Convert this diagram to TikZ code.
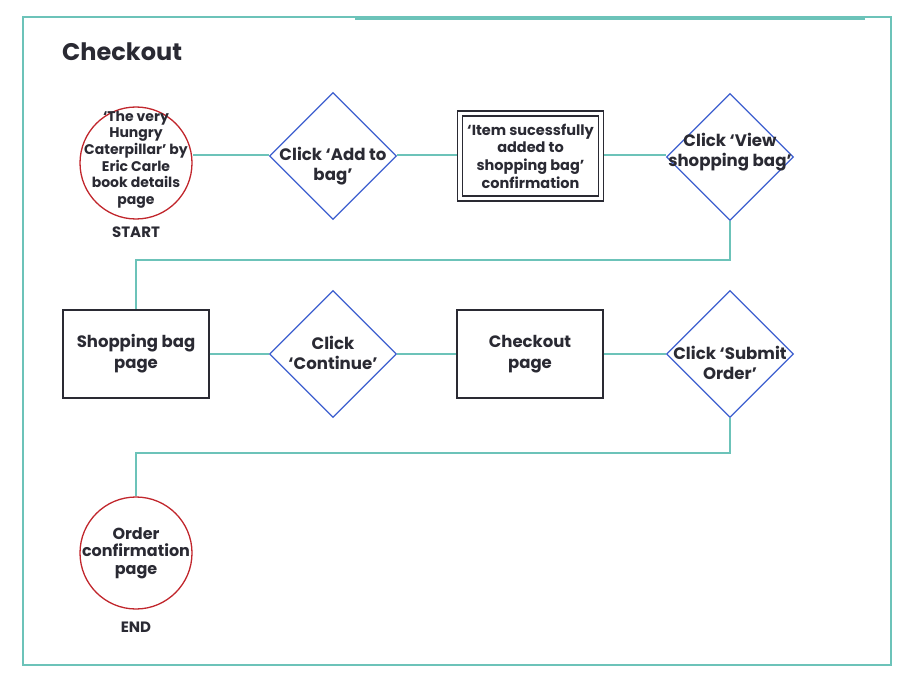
\documentclass[tikz,border=0pt]{standalone}
\usepackage{fontspec}
\setmainfont{Poppins}
\usetikzlibrary{shapes.geometric}
\definecolor{teal1}{HTML}{6CC3B9}
\definecolor{blue1}{HTML}{3D5FCF}
\definecolor{red1}{HTML}{C1272D}
\definecolor{ink}{HTML}{2A2A33}
\begin{document}
\begin{tikzpicture}[x=1pt,y=-1pt,
  txt/.style={font=\bfseries\fontsize{15}{17}\selectfont, text=ink, align=center, inner sep=0},
  dia/.style={draw=blue1, line width=1.3pt, diamond, minimum width=127, minimum height=127, inner sep=0},
  dtext/.style={txt, font=\bfseries\fontsize{16.6}{20}\selectfont},
  boxa/.style={draw=ink, line width=1.3pt, minimum width=146, minimum height=88, inner sep=0, txt, font=\bfseries\fontsize{16.5}{21}\selectfont},
  circ/.style={draw=red1, line width=1.3pt, circle, minimum size=112, inner sep=0},
  conn/.style={draw=teal1, line width=1.8pt}]
\useasboundingbox (0,0) rectangle (912,687);
\draw[teal1, line width=2.2pt] (23,17) rectangle (891,665);
\coordinate (tl) at (355,19);
\coordinate (tr) at (865,19);
\draw[teal1, line width=2.2pt] (tl) -- (tr);
\node[txt, font=\bfseries\fontsize{24}{26}\selectfont, anchor=west] (title) at (62,52) {Checkout};
% row 1
\node[circ] (start) at (136,163) {};
\node[txt, font=\bfseries\fontsize{14}{16.7}\selectfont] (starttxt) at (136,159.5) {‘The very\\Hungry\\Caterpillar’ by\\Eric Carle\\book details\\page};
\node[txt] (startlbl) at (136,232) {START};
\node[dia] (d1) at (333,156) {};
\node[dtext] (d1t) at (333,166) {Click ‘Add to\\bag’};
\node[draw=ink, line width=1.3pt, minimum width=146, minimum height=90, inner sep=0] (conf) at (530.5,156) {};
\node[draw=ink, line width=1.1pt, minimum width=136, minimum height=80, inner sep=0, txt, font=\bfseries\fontsize{14.5}{17.7}\selectfont] (confin) at (530.5,156) {‘Item sucessfully\\added to\\shopping bag’\\confirmation};
\node[dia] (d2) at (730,157) {};
\node[dtext] (d2t) at (730,152) {Click ‘View\\shopping bag’};
% row 2
\node[boxa] (bag) at (136,354) {Shopping bag\\page};
\node[dia] (d3) at (333,354) {};
\node[dtext] (d3t) at (333,353) {Click\\‘Continue’};
\node[boxa] (chk) at (530,354) {Checkout\\page};
\node[dia] (d4) at (730,354) {};
\node[dtext] (d4t) at (730,363) {Click ‘Submit\\Order’};
% row 3
\node[circ] (end) at (136,553) {};
\node[txt, font=\bfseries\fontsize{16}{17.5}\selectfont] (endtxt) at (136,553) {Order\\confirmation\\page};
\node[txt] (endlbl) at (136,627) {END};
% connectors
\draw[conn] (start.east |- 0,155) -- (d1.west |- 0,155);
\draw[conn] (d1.east |- 0,155) -- (conf.west |- 0,155);
\draw[conn] (conf.east |- 0,155) -- (d2.west |- 0,155);
\draw[conn] (d2.south) -- (730,260) -- (136,260) -- (bag.north);
\draw[conn] (bag.east) -- (d3.west);
\draw[conn] (d3.east) -- (chk.west);
\draw[conn] (chk.east) -- (d4.west);
\draw[conn] (d4.south) -- (730,453) -- (136,453) -- (end.north);
\end{tikzpicture}
\end{document}
